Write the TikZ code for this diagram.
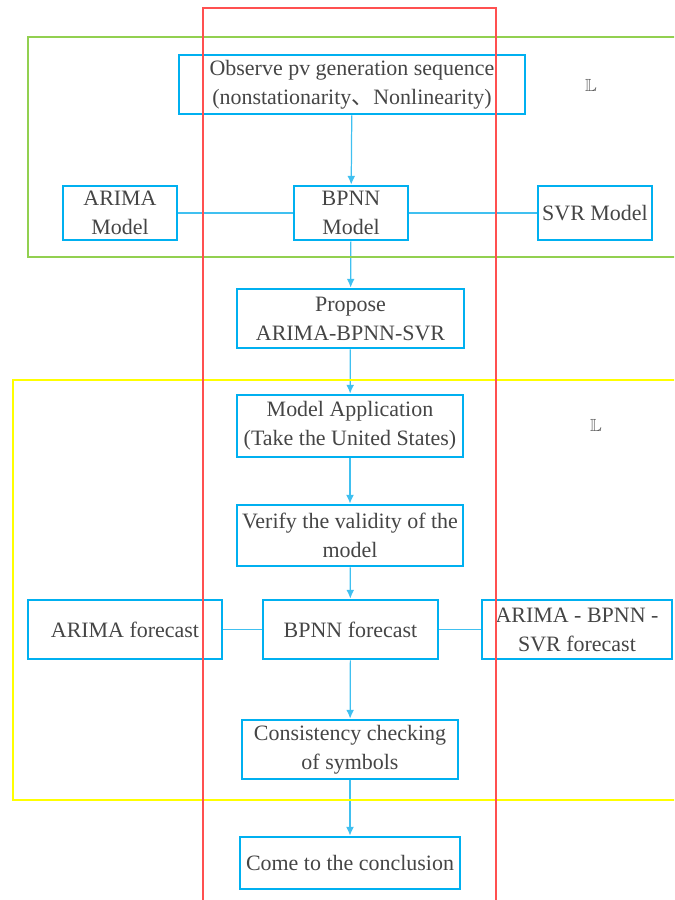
\documentclass[tikz,border=0pt]{standalone}
\usepackage{amssymb}
\usepackage{fontspec}
\setmainfont{Liberation Serif}
\newfontfamily\cjk{Noto Sans CJK SC}
\usepackage{tikz}
\usetikzlibrary{arrows.meta, positioning}

\definecolor{boxblue}{HTML}{00B0F0}
\definecolor{linkblue}{HTML}{40C0F0}
\definecolor{framegreen}{HTML}{92D050}
\definecolor{frameyellow}{HTML}{FFFF00}
\definecolor{framered}{HTML}{FF5050}
\definecolor{txtgray}{HTML}{454545}

\tikzset{
  stage/.style={draw=boxblue, line width=1.6pt, align=center, inner sep=1pt,
    text=txtgray, font=\fontsize{12.5}{16.5}\selectfont},
  link/.style={draw=linkblue, line width=0.7pt},
  frame/.style={line width=1.4pt},
  glyph/.style={text=black!65, inner sep=0pt, font=\normalsize}
}

\begin{document}
\begin{tikzpicture}[>={Latex[length=5pt, width=4.5pt]}, x=0.02cm, y=-0.02cm]

% --- Canvas ---
\useasboundingbox (0,0) rectangle (674,900);
\clip (0,0) rectangle (674,900);

% --- Upper part: models ---
\node[stage, minimum width=6.92cm, minimum height=1.18cm] (obs) at (352,84.5)
  {Observe pv generation sequence\\(nonstationarity{\cjk 、}Nonlinearity)};
\node[stage, minimum width=2.28cm, minimum height=1.08cm] (arimam) at (120,213) {ARIMA\\Model};
\node[stage, minimum width=2.28cm, minimum height=1.08cm] (bpnnm) at (351,213) {BPNN\\Model};
\node[stage, minimum width=2.28cm, minimum height=1.08cm] (svrm) at (595,213) {SVR Model};
\node[stage, minimum width=4.54cm, minimum height=1.18cm] (propose) at (350.5,318.5) {Propose\\ARIMA-BPNN-SVR};

% --- Lower part: application ---
\node[stage, minimum width=4.52cm, minimum height=1.24cm] (app) at (350,426) {Model Application\\(Take the United States)};
\node[stage, minimum width=4.52cm, minimum height=1.22cm] (verify) at (350,535.5) {Verify the validity of the\\model};
\node[stage, minimum width=3.88cm, minimum height=1.18cm] (arimaf) at (125,629.5) {ARIMA forecast};
\node[stage, minimum width=3.5cm, minimum height=1.18cm] (bpnnf) at (350.5,629.5) {BPNN forecast};
\node[stage, minimum width=3.8cm, minimum height=1.18cm] (hybf) at (577,629.5) {ARIMA - BPNN -\\SVR forecast};
\node[stage, minimum width=4.32cm, minimum height=1.18cm] (check) at (350,749.5) {Consistency checking\\of symbols};
\node[stage, minimum width=4.4cm, minimum height=1.04cm] (concl) at (350,863) {Come to the conclusion};

% --- Connectors ---
\draw[link, ->] (obs) -- (bpnnm);
\draw[link] (arimam) -- (bpnnm);
\draw[link] (bpnnm) -- (svrm);
\draw[link, ->] (bpnnm) -- (propose);
\draw[link, ->] (propose) -- (app);
\draw[link, ->] (app) -- (verify);
\draw[link, ->] (verify) -- (bpnnf);
\draw[link] (arimaf) -- (bpnnf);
\draw[link] (bpnnf) -- (hybf);
\draw[link, ->] (bpnnf) -- (check);
\draw[link, ->] (check) -- (concl);

% --- Small marks ---
\node[glyph] (markup) at (591,85) {$\mathbb{L}$};
\node[glyph] (marklow) at (596,425) {$\mathbb{L}$};

% --- Frames on top ---
\draw[frame, framegreen] (28,37) rectangle (720,257);
\draw[frame, frameyellow] (13,380) rectangle (720,800);
\draw[frame, framered] (203,8) rectangle (496,930);

\end{tikzpicture}
\end{document}
